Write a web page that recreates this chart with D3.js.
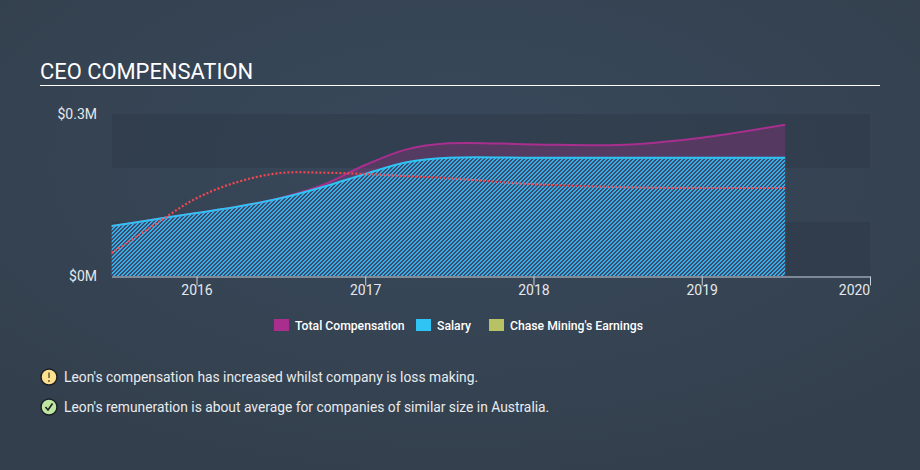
<!DOCTYPE html>
<html>
<head>
<meta charset="utf-8">
<script src="https://cdn.jsdelivr.net/npm/d3@7"></script>
<style>
html, body { margin: 0; padding: 0; }
body { width: 920px; height: 470px; overflow: hidden; background: #36434f; }
text { font-family: Roboto, sans-serif; }
</style>
</head>
<body>
<div id="app"></div>
<script>
const width = 920,
    height = 470;

// values, $M
const dates = ["2015-07-01", "2015-10-01", "2016-01-01", "2016-04-01", "2016-07-01", "2016-10-01", "2017-01-01", "2017-04-01", "2017-07-01", "2018-01-01", "2018-07-01", "2018-10-01", "2019-01-01", "2019-07-01"];
const totalComp = [0.0926, 0.1046, 0.1167, 0.1287, 0.1445, 0.1685, 0.2056, 0.2345, 0.2457, 0.2437, 0.2426, 0.2476, 0.256, 0.28];
const salary = [0.0926, 0.1046, 0.1167, 0.1287, 0.1438, 0.1648, 0.1889, 0.2105, 0.219, 0.219, 0.219, 0.219, 0.219, 0.219];
const earnings = [0.0426, 0.0944, 0.144, 0.1746, 0.1907, 0.1913, 0.1889, 0.185, 0.181, 0.17, 0.1648, 0.1635, 0.163, 0.163];
const yTicks = [0, 0.3];
const xTicks = ["2016-01-01", "2017-01-01", "2018-01-01", "2019-01-01", "2020-01-01"];
const bands = [[0.2, 0.3], [0, 0.1]];
const legendItems = ["Total Compensation", "Salary", "Chase Mining's Earnings"];
const legendColors = ["#a92f8f", "#2fc4f3", "#b7c264"];
const notes = ["Leon's compensation has increased whilst company is loss making.", "Leon's remuneration is about average for companies of similar size in Australia."];

const parseDate = d3.timeParse("%Y-%m-%d");
const xDates = dates.map(parseDate);

const x = d3.scaleTime()
    .domain([parseDate("2016-01-01"), parseDate("2020-01-01")])
    .range([196.5, 870]);
const y = d3.scaleLinear().domain([0, 0.3]).range([276, 114]);

const svg = d3.select("#app")
    .append("svg")
    .attr("width", width)
    .attr("height", height);

const defs = svg.append("defs");

const bg = defs.append("radialGradient")
    .attr("id", "bg")
    .attr("cx", "50%").attr("cy", "35%").attr("r", "70%");
bg.append("stop").attr("offset", "0%").attr("stop-color", "#38495c");
bg.append("stop").attr("offset", "100%").attr("stop-color", "#333f4c");

// pixel aligned diagonal stripes, 4px repeat
const hatch = defs.append("pattern")
    .attr("id", "hatch")
    .attr("width", 4)
    .attr("height", 4)
    .attr("patternUnits", "userSpaceOnUse");
hatch.append("rect").attr("width", 4).attr("height", 4).attr("fill", "#3d4a6c");
d3.cross(d3.range(4), d3.range(4))
    .filter(d => (d[0] + d[1]) % 4 < 2)
    .forEach(d => {
        hatch.append("rect")
            .attr("x", d[0]).attr("y", d[1])
            .attr("width", 1).attr("height", 1)
            .attr("shape-rendering", "crispEdges")
            .attr("fill", "#35aee6");
    });

svg.append("rect").attr("width", width).attr("height", height).attr("fill", "url(#bg)");

// title
svg.append("text")
    .attr("x", 40).attr("y", 79)
    .attr("font-size", 21.9)
    .attr("fill", "#fff")
    .text("CEO COMPENSATION");
svg.append("line")
    .attr("x1", 40).attr("x2", 880)
    .attr("y1", 85.5).attr("y2", 85.5)
    .attr("stroke", "#fff");

// background bands
svg.append("g").selectAll("rect")
    .data(bands).enter()
    .append("rect")
    .attr("x", 112)
    .attr("width", 870 - 112)
    .attr("y", d => y(d[1]))
    .attr("height", d => y(d[0]) - y(d[1]))
    .attr("fill", "#2f3b49")
    .attr("opacity", 0.6);

const area = vals => d3.area()
    .x((d, i) => x(xDates[i]))
    .y0(y(0))
    .y1((d, i) => y(vals[i]))
    .curve(d3.curveCatmullRom)(vals);
const line = vals => d3.line()
    .x((d, i) => x(xDates[i]))
    .y((d, i) => y(vals[i]))
    .curve(d3.curveCatmullRom)(vals);

svg.append("path").attr("d", area(totalComp)).attr("fill", "#a92f8f").attr("fill-opacity", 0.3);
svg.append("path").attr("d", area(salary)).attr("fill", "url(#hatch)");
svg.append("path").attr("d", line(totalComp)).attr("fill", "none").attr("stroke", "#a92f8f").attr("stroke-width", 2);
svg.append("path").attr("d", line(salary)).attr("fill", "none").attr("stroke", "#2fc4f3").attr("stroke-width", 2);
svg.append("path").attr("d", line(earnings))
    .attr("fill", "none")
    .attr("stroke", "#f5474f")
    .attr("stroke-width", 2.2)
    .attr("stroke-dasharray", "2 2");

// axes
const xAxis = svg.append("g")
    .attr("transform", "translate(0,276.5)")
    .call(d3.axisBottom(x)
        .tickValues(xTicks.map(parseDate))
        .tickFormat(d3.timeFormat("%Y"))
        .tickSize(9)
        .tickSizeOuter(0));
xAxis.select(".domain").attr("stroke", "#c6d0dc").attr("d", "M112,0.5H870.5");
xAxis.selectAll(".tick line").attr("stroke", "#c6d0dc");
xAxis.selectAll(".tick text")
    .attr("font-family", "Roboto, sans-serif")
    .attr("font-size", 14)
    .attr("fill", "#e4e8ec")
    .attr("y", 9)
    .attr("dy", "0.71em")
    .attr("dx", d => d.getFullYear() === 2020 ? -16 : 0);

const yAxis = svg.append("g")
    .attr("transform", "translate(97,0)")
    .call(d3.axisLeft(y)
        .tickValues(yTicks)
        .tickFormat(d => "$" + d + "M")
        .tickSize(0));
yAxis.select(".domain").remove();
yAxis.selectAll(".tick text")
    .attr("font-family", "Roboto, sans-serif")
    .attr("font-size", 14)
    .attr("fill", "#e4e8ec")
    .attr("x", 0);

// legend
const legendX = [274, 416, 489];
const legend = svg.append("g").selectAll("g")
    .data(legendItems).enter()
    .append("g")
    .attr("transform", (d, i) => "translate(" + legendX[i] + ",319)");
legend.append("rect")
    .attr("width", 15)
    .attr("height", 12)
    .attr("fill", (d, i) => legendColors[i]);
legend.append("text")
    .attr("x", 21)
    .attr("y", 11)
    .attr("font-size", 12.2)
    .attr("font-weight", 500)
    .attr("fill", "#fff")
    .text(d => d);

// notes
const noteRows = svg.append("g").selectAll("g")
    .data(notes).enter()
    .append("g")
    .attr("transform", (d, i) => "translate(0," + (377 + i * 30) + ")");
noteRows.append("circle")
    .attr("cx", 49).attr("cy", 0).attr("r", 8)
    .attr("stroke", "#1a2029")
    .attr("stroke-width", 1.5)
    .attr("fill", (d, i) => i === 0 ? "#ffe08e" : "#bfe6a0");
noteRows.append("path")
    .attr("d", (d, i) => i === 0 ? "M49,-4.5V1M49,3V5" : "M45.5,0L48,3L52.5,-3.5")
    .attr("fill", "none")
    .attr("stroke", (d, i) => i === 0 ? "#8c7a4a" : "#222")
    .attr("stroke-width", (d, i) => i === 0 ? 2 : 1.6);
noteRows.append("text")
    .attr("x", 64)
    .attr("y", 5)
    .attr("font-size", 13.82)
    .attr("fill", "#e8ebee")
    .text(d => d);
</script>
</body>
</html>
